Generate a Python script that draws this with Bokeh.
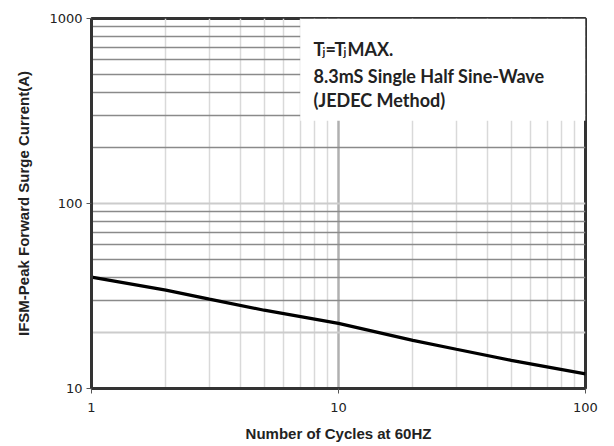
from bokeh.plotting import figure
from bokeh.models import FixedTicker, Grid, BoxAnnotation, Label
from bokeh.embed import file_html
from bokeh.resources import INLINE

# ---- data ----
cycles = [1, 2, 3, 5, 10, 20, 30, 50, 100]
surge = [40, 34, 30.4, 26.5, 22.5, 18.2, 16.3, 14.2, 12]
x_major = [1, 10, 100]
x_minor = [2, 3, 4, 5, 6, 7, 8, 9, 20, 30, 40, 50, 60, 70, 80, 90]
y_major = [10, 100, 1000]
y_dark = [30, 40, 50, 60, 70, 80, 90, 200, 300, 400, 500, 600, 700, 800, 900]
y_light = [20, 100]
x_label = "Number of Cycles at 60HZ"
y_label = "IFSM-Peak Forward Surge Current(A)"
note_lines = ["8.3mS Single Half Sine-Wave", "(JEDEC Method)"]

p = figure(width=614, height=446, x_axis_type="log", y_axis_type="log",
           x_range=(1, 100), y_range=(10, 1000),
           output_backend="svg", toolbar_location=None,
           min_border_left=91, min_border_right=29, min_border_top=18, min_border_bottom=58)

p.xgrid.visible = False
p.ygrid.visible = False

gx_minor = Grid(dimension=0, ticker=FixedTicker(ticks=x_minor),
                grid_line_color="#d9d9d9", grid_line_width=1.5)
gx_major = Grid(dimension=0, ticker=FixedTicker(ticks=[10]),
                grid_line_color="#b0b0b0", grid_line_width=2.5)
gy_dark = Grid(dimension=1, ticker=FixedTicker(ticks=y_dark),
               grid_line_color="#8a8a8a", grid_line_width=1.5)
gy_light = Grid(dimension=1, ticker=FixedTicker(ticks=y_light),
                grid_line_color="#cccccc", grid_line_width=2)
for g in (gx_minor, gx_major, gy_light, gy_dark):
    p.add_layout(g)

p.line(cycles, surge, line_color="black", line_width=3.2)

# white note box
p.add_layout(BoxAnnotation(left=7.0, right=100, bottom=280, top=1000,
                           fill_color="white", fill_alpha=1.0, line_color=None,
                           level="underlay"))

for ax, ticks in ((p.xaxis, x_major), (p.yaxis, y_major)):
    ax.ticker = FixedTicker(ticks=ticks)
    ax.major_label_overrides = {t: str(t) for t in ticks}
    ax.axis_line_width = 3
    ax.axis_line_color = "#333333"
    ax.major_tick_line_color = "#555555"
    ax.major_tick_out = 5
    ax.major_tick_in = 0
    ax.minor_tick_out = 0
    ax.minor_tick_in = 0
    ax.major_label_text_font = "DejaVu Sans"
    ax.major_label_text_font_size = "13px"
    ax.major_label_text_color = "#222222"
    ax.axis_label_text_font = "Liberation Sans"
    ax.axis_label_text_font_size = "15px"
    ax.axis_label_text_font_style = "bold"
    ax.axis_label_text_color = "#222222"

p.xaxis.axis_label = x_label
p.yaxis.axis_label = y_label
p.xaxis.major_label_standoff = 9
p.xaxis.axis_label_standoff = 10
p.yaxis.major_label_standoff = 4
p.yaxis.axis_label_standoff = 14

p.outline_line_color = "#333333"
p.outline_line_width = 3
p.outline_line_alpha = 1

# note text (screen units are relative to the plot frame, origin bottom-left)
font = "Lato"
fs = "18px"
FB = 388  # frame bottom (page y)
FL = 91   # frame left (page x)

def lab(px, py, t, size=fs):
    p.add_layout(Label(x=px - FL, y=FB - py, x_units="screen", y_units="screen", text=t,
                       text_font=font, text_font_size=size, text_font_style="bold",
                       text_color="#222222", text_baseline="alphabetic"))

lab(313, 48, "T")
lab(322, 51, "j", "11px")
lab(325, 48, "=")
lab(334, 48, "T")
lab(343, 51, "j", "11px")
lab(347, 48, "MAX.")
lab(313, 75, note_lines[0])
lab(313, 99, note_lines[1])

open("out.html", "w").write(file_html(p, INLINE))
